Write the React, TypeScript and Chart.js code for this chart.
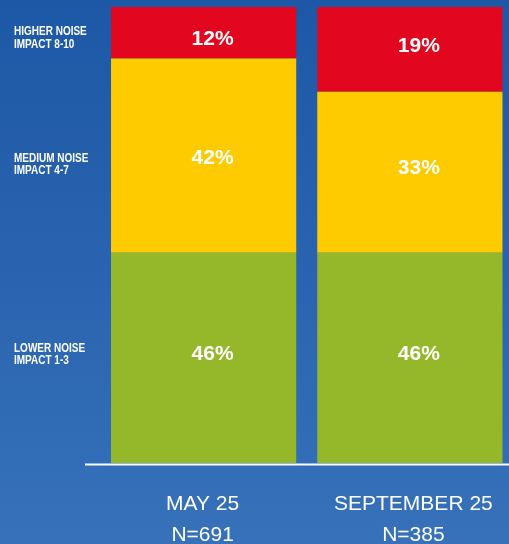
import React, { useEffect, useRef } from "react";
import { Chart, registerables } from "chart.js";

Chart.register(...registerables);

const categories = ["MAY 25", "SEPTEMBER 25"];
const sampleSizes = ["N=691", "N=385"];
const seriesNames = [
  ["LOWER NOISE", "IMPACT 1-3"],
  ["MEDIUM NOISE", "IMPACT 4-7"],
  ["HIGHER NOISE", "IMPACT 8-10"],
];
// Segment shares (bottom to top)
const lowerValues = [46.1, 46.1];
const mediumValues = [42.6, 35.3];
const higherValues = [11.3, 18.6];
// Printed labels
const lowerLabels = ["46%", "46%"];
const mediumLabels = ["42%", "33%"];
const higherLabels = ["12%", "19%"];
const seriesColors = ["#94b82a", "#fecb00", "#e2061f"];

const FONT = "'Liberation Sans', Arial, Helvetica, sans-serif";

const overlayPlugin = {
  id: "overlay",
  afterDatasetsDraw(chart: any) {
    const ctx = chart.ctx;
    const x = chart.scales.x;
    const y = chart.scales.y;
    const labelSets = [lowerLabels, mediumLabels, higherLabels];
    // value labels
    ctx.save();
    ctx.fillStyle = "#ffffff";
    ctx.font = `bold 21px ${FONT}`;
    ctx.textAlign = "center";
    ctx.textBaseline = "middle";
    chart.data.datasets.forEach((ds: any, di: number) => {
      const meta = chart.getDatasetMeta(di);
      meta.data.forEach((bar: any, i: number) => {
        const cy = (bar.y + bar.base) / 2;
        const dy = di === 0 ? -4 : di === 1 ? (i === 0 ? 3 : -4) : (i === 0 ? 6 : -3);
        ctx.fillText(labelSets[di][i], bar.x + 9, cy + dy);
      });
    });
    ctx.restore();

    // side labels (series names)
    ctx.save();
    ctx.fillStyle = "#ffffff";
    ctx.font = `bold 12.5px ${FONT}`;
    ctx.textAlign = "left";
    ctx.textBaseline = "alphabetic";
    const offsets = [-5, 7, 3.5];
    const meta0 = chart.data.datasets.map((_: any, di: number) => chart.getDatasetMeta(di).data[0]);
    seriesNames.forEach((lines, di) => {
      const bar = meta0[di];
      const cy = (bar.y + bar.base) / 2 + offsets[di];
      lines.forEach((line, li) => {
        const by = cy - 1 + li * 12.5;
        ctx.save();
        ctx.translate(14, by);
        ctx.scale(0.8, 1);
        ctx.fillText(line, 0, 0);
        ctx.restore();
      });
    });
    ctx.restore();

    // baseline
    const baseY = y.getPixelForValue(0) + 1.5;
    ctx.save();
    ctx.strokeStyle = "#ffffff";
    ctx.lineWidth = 2;
    ctx.beginPath();
    ctx.moveTo(chart.chartArea.left - 15.5, baseY);
    ctx.lineTo(chart.width, baseY);
    ctx.stroke();
    ctx.restore();

    // category labels
    ctx.save();
    ctx.fillStyle = "#ffffff";
    ctx.font = `21px ${FONT}`;
    ctx.textAlign = "center";
    ctx.textBaseline = "alphabetic";
    categories.forEach((c, i) => {
      const cx = x.getPixelForValue(i) + (i === 0 ? -1 : 3.5);
      ctx.fillText(c, cx, baseY + 45);
      ctx.fillText(sampleSizes[i], cx, baseY + 76);
    });
    ctx.restore();
  },
};

export default function App() {
  const ref = useRef<HTMLCanvasElement>(null);
  useEffect(() => {
    if (!ref.current) return;
    const chart = new Chart(ref.current, {
      type: "bar",
      data: {
        labels: categories,
        datasets: [
          { label: seriesNames[0].join(" "), data: lowerValues, backgroundColor: seriesColors[0] },
          { label: seriesNames[1].join(" "), data: mediumValues, backgroundColor: seriesColors[1] },
          { label: seriesNames[2].join(" "), data: higherValues, backgroundColor: seriesColors[2] },
        ],
      },
      options: {
        responsive: false,
        animation: false,
        layout: { padding: { left: 100.5, right: 0, top: 7, bottom: 81 } },
        datasets: { bar: { categoryPercentage: 1, barPercentage: 0.898, borderWidth: 0 } },
        plugins: { legend: { display: false }, tooltip: { enabled: false } },
        scales: {
          x: { stacked: true, display: false },
          y: { stacked: true, display: false, min: 0, max: 100 },
        },
      },
      plugins: [overlayPlugin],
    });
    return () => chart.destroy();
  }, []);
  return (
    <div
      style={{
        position: "fixed",
        left: 0,
        top: 0,
        width: 509,
        height: 544,
        overflow: "hidden",
        background: "linear-gradient(to bottom, #1d58a6 0%, #2a64b0 50%, #3671ba 100%)",
      }}
    >
      <canvas ref={ref} width={513} height={544} style={{ display: "block" }} />
    </div>
  );
}
